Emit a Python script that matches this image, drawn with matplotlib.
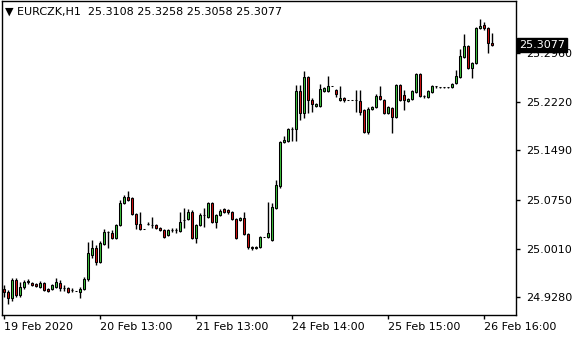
import matplotlib.pyplot as plt
import matplotlib.transforms as mtransforms

# EURCZK H1 candles (bar 0 = 19 Feb 2020)
opens = [24.9406, 24.9360, 24.9270, 24.9541, 24.9315, 24.9436, 24.9511, 24.9496, 24.9481, 24.9436,
         24.9496, 24.9406, 24.9406, 24.9436, 24.9496, 24.9421, 24.9421, 24.9391, 24.9375, 24.9360,
         24.9406, 24.9556, 24.9917, 25.0023, 24.9812, 25.0083, 25.0264, 25.0248, 25.0173, 25.0369,
         25.0700, 25.0790, 25.0775, 25.0534, 25.0384, 25.0309, 25.0384, 25.0369, 25.0369, 25.0324,
         25.0294, 25.0218, 25.0294, 25.0294, 25.0279, 25.0444, 25.0459, 25.0565, 25.0173, 25.0369,
         25.0519, 25.0489, 25.0700, 25.0414, 25.0519, 25.0610, 25.0595, 25.0565, 25.0459, 25.0444,
         25.0474, 25.0233, 25.0038, 25.0023, 25.0038, 25.0188, 25.0188, 25.0143, 25.0625, 25.0956,
         25.1618, 25.1633, 25.1814, 25.1814, 25.2385, 25.2055, 25.2596, 25.2250, 25.2160, 25.2160,
         25.2385, 25.2385, 25.2461, 25.2401, 25.2250, 25.2280, 25.2250, 25.2249, 25.2250, 25.2235,
         25.2100, 25.1768, 25.2115, 25.2145, 25.2310, 25.2250, 25.2055, 25.2130, 25.1994, 25.2476,
         25.2325, 25.2235, 25.2265, 25.2370, 25.2641, 25.2310, 25.2295, 25.2370, 25.2461, 25.2446,
         25.2446, 25.2446, 25.2446, 25.2506, 25.2596, 25.2897, 25.3063, 25.2732, 25.2807, 25.3334,
         25.3379, 25.3334, 25.3108]
highs = [24.9466, 24.9391, 24.9571, 24.9571, 24.9511, 24.9541, 24.9556, 24.9511, 24.9496, 24.9526,
         24.9511, 24.9421, 24.9481, 24.9571, 24.9541, 24.9466, 24.9436, 24.9421, 24.9379, 24.9436,
         24.9586, 25.0113, 25.0143, 25.0068, 25.0128, 25.0309, 25.0279, 25.0294, 25.0384, 25.0745,
         25.0820, 25.0880, 25.0790, 25.0549, 25.0565, 25.0312, 25.0414, 25.0489, 25.0384, 25.0339,
         25.0309, 25.0309, 25.0324, 25.0324, 25.0565, 25.0625, 25.0610, 25.0595, 25.0384, 25.0549,
         25.0625, 25.0715, 25.0715, 25.0534, 25.0610, 25.0625, 25.0610, 25.0580, 25.0474, 25.0489,
         25.0565, 25.0248, 25.0053, 25.0053, 25.0203, 25.0191, 25.0715, 25.0700, 25.1046, 25.1633,
         25.1708, 25.1829, 25.1844, 25.2476, 25.2476, 25.2686, 25.2611, 25.2280, 25.2205, 25.2491,
         25.2446, 25.2611, 25.2465, 25.2416, 25.2461, 25.2295, 25.2253, 25.2253, 25.2401, 25.2401,
         25.2115, 25.2145, 25.2160, 25.2340, 25.2461, 25.2265, 25.2160, 25.2145, 25.2491, 25.2491,
         25.2401, 25.2280, 25.2401, 25.2656, 25.2656, 25.2325, 25.2401, 25.2476, 25.2463, 25.2448,
         25.2449, 25.2448, 25.2506, 25.2702, 25.3018, 25.3243, 25.3078, 25.2822, 25.3349, 25.3469,
         25.3424, 25.3349, 25.3258]
lows = [24.9285, 24.9180, 24.9225, 24.9285, 24.9285, 24.9406, 24.9481, 24.9451, 24.9436, 24.9421,
        24.9375, 24.9360, 24.9391, 24.9421, 24.9375, 24.9375, 24.9345, 24.9360, 24.9372, 24.9270,
        24.9391, 24.9526, 24.9872, 24.9767, 24.9797, 25.0068, 25.0023, 25.0158, 25.0158, 25.0354,
        25.0685, 25.0730, 25.0519, 25.0309, 25.0294, 25.0306, 25.0369, 25.0324, 25.0309, 25.0279,
        25.0173, 25.0203, 25.0264, 25.0248, 25.0264, 25.0324, 25.0444, 25.0158, 25.0098, 25.0354,
        25.0339, 25.0474, 25.0399, 25.0324, 25.0504, 25.0549, 25.0534, 25.0444, 25.0158, 25.0429,
        25.0218, 25.0008, 24.9993, 25.0008, 25.0023, 25.0185, 25.0173, 25.0128, 25.0610, 25.0926,
        25.1603, 25.1618, 25.1633, 25.1633, 25.1949, 25.1979, 25.2055, 25.2070, 25.2145, 25.2145,
        25.2370, 25.2370, 25.2458, 25.2295, 25.2235, 25.2220, 25.2247, 25.2246, 25.2070, 25.2025,
        25.1753, 25.1738, 25.2100, 25.2130, 25.2250, 25.2040, 25.2040, 25.1753, 25.1979, 25.2235,
        25.2100, 25.2220, 25.2250, 25.2355, 25.2295, 25.2280, 25.2280, 25.2355, 25.2431, 25.2431,
        25.2431, 25.2431, 25.2431, 25.2491, 25.2581, 25.2882, 25.2717, 25.2581, 25.2792, 25.3319,
        25.3304, 25.2957, 25.3058]
closes = [24.9360, 24.9270, 24.9541, 24.9315, 24.9436, 24.9511, 24.9526, 24.9466, 24.9451, 24.9496,
          24.9391, 24.9375, 24.9466, 24.9511, 24.9421, 24.9418, 24.9360, 24.9391, 24.9375, 24.9406,
          24.9556, 24.9947, 25.0023, 24.9812, 25.0098, 25.0264, 25.0267, 25.0173, 25.0369, 25.0700,
          25.0790, 25.0745, 25.0534, 25.0384, 25.0309, 25.0309, 25.0386, 25.0371, 25.0324, 25.0294,
          25.0188, 25.0294, 25.0296, 25.0297, 25.0414, 25.0447, 25.0565, 25.0173, 25.0369, 25.0519,
          25.0521, 25.0700, 25.0414, 25.0519, 25.0580, 25.0565, 25.0565, 25.0459, 25.0173, 25.0474,
          25.0233, 25.0038, 25.0023, 25.0038, 25.0188, 25.0189, 25.0248, 25.0640, 25.0971, 25.1618,
          25.1648, 25.1814, 25.1816, 25.2385, 25.2055, 25.2596, 25.2250, 25.2190, 25.2190, 25.2416,
          25.2431, 25.2461, 25.2461, 25.2340, 25.2280, 25.2250, 25.2250, 25.2249, 25.2252, 25.2070,
          25.1768, 25.2115, 25.2145, 25.2310, 25.2265, 25.2055, 25.2145, 25.1994, 25.2476, 25.2250,
          25.2250, 25.2265, 25.2385, 25.2641, 25.2310, 25.2308, 25.2385, 25.2461, 25.2459, 25.2445,
          25.2447, 25.2446, 25.2491, 25.2611, 25.2912, 25.3063, 25.2732, 25.2807, 25.3334, 25.3364,
          25.3334, 25.3108, 25.3077]

time_ticks = [0, 24, 48, 72, 96, 120]
time_labels = ["19 Feb 2020", "20 Feb 13:00", "21 Feb 13:00", "24 Feb 14:00", "25 Feb 15:00", "26 Feb 16:00"]
price_ticks = [24.9280, 25.0010, 25.0750, 25.1490, 25.2220, 25.2960]

up_color = '#3cc03c'
down_color = '#d01010'

fig = plt.figure(figsize=(5.8, 3.4), dpi=100)
ax = fig.add_axes([2 / 580, 25 / 340, 514 / 580, 314 / 340])

x = list(range(len(opens)))
ax.vlines(x, lows, highs, color='black', linewidth=1, zorder=2)
bottoms = [min(o, c) for o, c in zip(opens, closes)]
heights = [abs(c - o) for o, c in zip(opens, closes)]
colors = [up_color if c >= o else down_color for o, c in zip(opens, closes)]
ax.bar(x, heights, bottom=bottoms, width=0.5, color=colors, edgecolor='black', linewidth=0.75, zorder=3)

ax.set_xlim(-0.375, 128.125)
ax.set_ylim(24.9014, 25.3740)

ax.yaxis.tick_right()
ax.set_yticks(price_ticks)
ax.set_yticklabels(["%.4f" % p for p in price_ticks])
ax.set_xticks(time_ticks)
ax.set_xticklabels(time_labels)
for lbl in ax.get_xticklabels():
    lbl.set_horizontalalignment('left')
ax.tick_params(axis='both', direction='out', length=3, width=1, color='black', labelsize=8, pad=4)
ax.tick_params(axis='x', pad=2)
for s in ax.spines.values():
    s.set_color('black')
    s.set_linewidth(1)

# current price label on the right scale
trans = mtransforms.blended_transform_factory(ax.transAxes, ax.transData)
ax.text(1.0 + 3 / 514, closes[-1], "%.4f" % closes[-1], transform=trans, color='white', fontsize=8,
        va='center', ha='left', clip_on=False, zorder=5,
        bbox=dict(boxstyle='square,pad=0.15', fc='black', ec='black'))

header = "\u25bc EURCZK,H1  %.4f %.4f %.4f %.4f" % (opens[-1], highs[-1], lows[-1], closes[-1])
fig.text(5 / 580, 1 - 12 / 340, header, fontsize=8, va='center', ha='left')

fig.savefig('out.png', dpi=100)
